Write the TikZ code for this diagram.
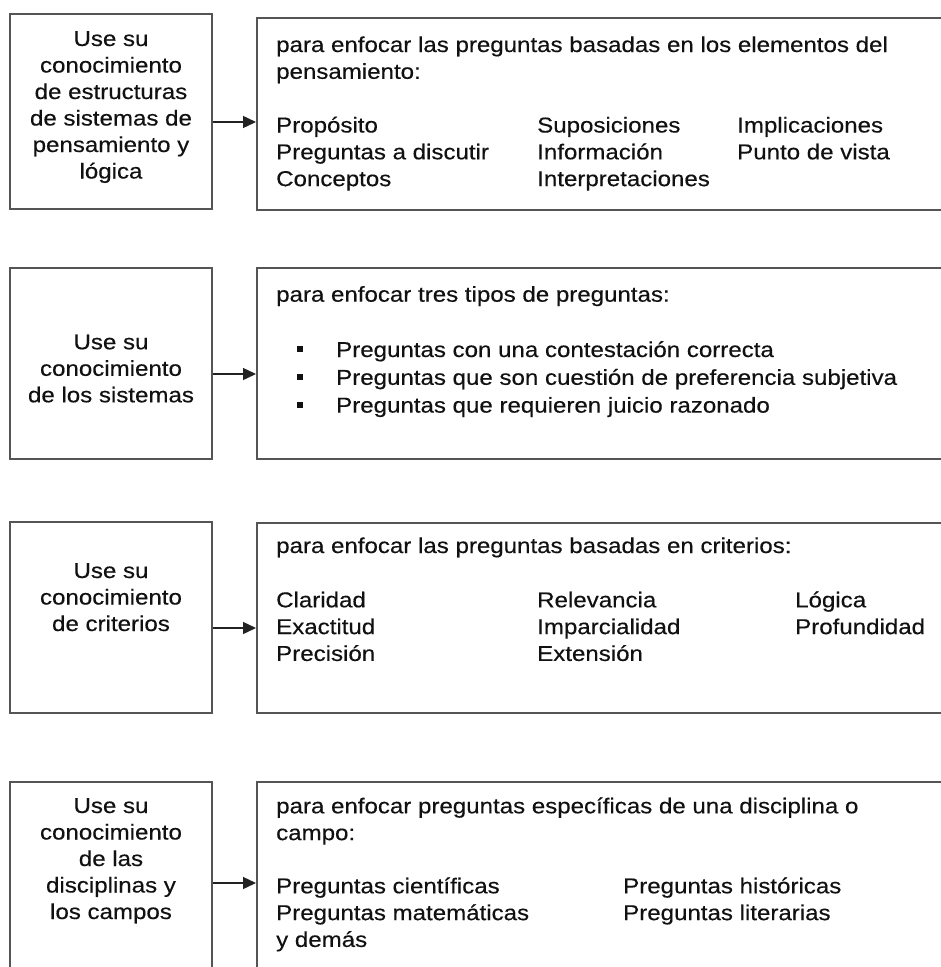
\documentclass[tikz,border=0pt]{standalone}
\usepackage{fontspec}
\setmainfont{Liberation Sans}[FakeStretch=1.12,FakeBold=0.35]
\usetikzlibrary{arrows.meta}
\definecolor{boxgray}{HTML}{555555}
\definecolor{arrowgray}{HTML}{222222}
\definecolor{inkc}{HTML}{111111}
\tikzset{
  box/.style={draw=boxgray, line width=2pt, inner sep=0pt},
  lbox/.style={box, minimum width=202pt},
  rbox/.style={box, minimum width=703pt},
  txt/.style={font=\fontsize{21.5}{26.8}\selectfont, inner sep=0pt, align=left, text=inkc, anchor=base west},
  ctxt/.style={font=\fontsize{21.5}{26.5}\selectfont, inner sep=0pt, align=center, text=inkc, anchor=base},
  bul/.style={fill=inkc, minimum size=6.5pt, inner sep=0pt},
  arr/.style={line width=1.4pt, draw=arrowgray, -{Triangle[length=13pt,width=12pt]}}
}
\begin{document}
\begin{tikzpicture}[x=1pt,y=-1pt]
\useasboundingbox (0,0) rectangle (941,967);
\clip (0,0) rectangle (941,967);
\fill[white] (0,0) rectangle (941,967);
% boxes
\node[lbox, minimum height=195pt] (L1) at (111,111.5) {};
\node[rbox, minimum height=191.5pt] (R1) at (608.5,113.75) {};
\node[lbox, minimum height=191pt] (L2) at (111,363.5) {};
\node[rbox, minimum height=191pt] (R2) at (608.5,363.5) {};
\node[lbox, minimum height=191pt] (L3) at (111,617.5) {};
\node[rbox, minimum height=190pt] (R3) at (608.5,618) {};
\node[lbox, minimum height=200pt] (L4) at (111,882) {};
\node[rbox, minimum height=200pt] (R4) at (608.5,882) {};
% arrows
\draw[arr] ([yshift=-10.5pt]L1.east) -- ([yshift=-10.5pt]L1.east -| R1.west);
\draw[arr] ([yshift=-10.5pt]L2.east) -- ([yshift=-10.5pt]L2.east -| R2.west);
\draw[arr] ([yshift=-10.5pt]L3.east) -- ([yshift=-10.5pt]L3.east -| R3.west);
\draw[arr] ([yshift=-1pt]L4.east) -- ([yshift=-1pt]L4.east -| R4.west);
% box 1 (anchors are at the baseline of the last line)
\node[ctxt] (t1) at (111,178.5) {Use su\\conocimiento\\de estructuras\\de sistemas de\\pensamiento y\\lógica};
\node[txt] (h1) at (276,78.8) {para enfocar las preguntas basadas en los elementos del\\pensamiento:};
\node[txt] (c11) at (276,186.1) {Propósito\\Preguntas a discutir\\Conceptos};
\node[txt] (c12) at (537,186.1) {Suposiciones\\Información\\Interpretaciones};
\node[txt] (c13) at (737,159.3) {Implicaciones\\Punto de vista};
% box 2
\node[ctxt] (t2) at (111,402.3) {Use su\\conocimiento\\de los sistemas};
\node[txt] (h2) at (276,301.7) {para enfocar tres tipos de preguntas:};
\node[txt, font=\fontsize{21.5}{27.8}\selectfont] (c21) at (336,412.6) {Preguntas con una contestación correcta\\Preguntas que son cuestión de preferencia subjetiva\\Preguntas que requieren juicio razonado};
\node[bul] (b1) at (300,349) {};
\node[bul] (b2) at (300,377) {};
\node[bul] (b3) at (300,405) {};
% box 3
\node[ctxt] (t3) at (111,631) {Use su\\conocimiento\\de criterios};
\node[txt] (h3) at (276,553) {para enfocar las preguntas basadas en criterios:};
\node[txt] (c31) at (276,660.9) {Claridad\\Exactitud\\Precisión};
\node[txt] (c32) at (537,660.9) {Relevancia\\Imparcialidad\\Extensión};
\node[txt] (c33) at (795,634.1) {Lógica\\Profundidad};
% box 4
\node[ctxt] (t4) at (111,919) {Use su\\conocimiento\\de las\\disciplinas y\\los campos};
\node[txt] (h4) at (276,840.1) {para enfocar preguntas específicas de una disciplina o\\campo:};
\node[txt] (c41) at (276,946.9) {Preguntas científicas\\Preguntas matemáticas\\y demás};
\node[txt] (c42) at (623,920.1) {Preguntas históricas\\Preguntas literarias};
\end{tikzpicture}
\end{document}
